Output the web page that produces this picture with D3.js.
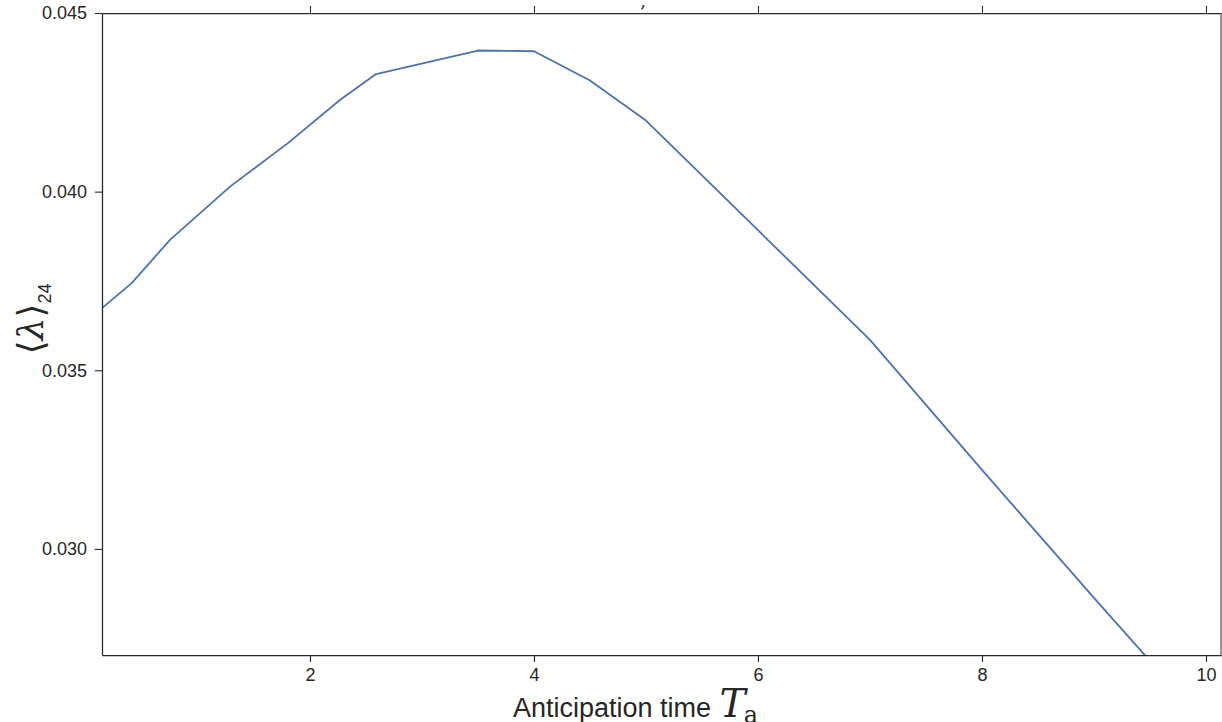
<!DOCTYPE html>
<html>
<head>
<meta charset="utf-8">
<script src="https://cdn.jsdelivr.net/npm/d3@7"></script>
<style>
  body { margin: 0; background: #fff; }
  svg { display: block; }
</style>
</head>
<body>
<div id="chart"></div>
<script>
// anticipation time T_a
const timeValues = [0.143, 0.408, 0.75, 1.286, 1.8, 2.27, 2.59, 3.5, 4.0, 4.5, 5.0, 6.0, 7.0, 8.0, 9.0, 10.0];
// mean lambda over 24
const lambdaValues = [0.03674, 0.03744, 0.03865, 0.04014, 0.04135, 0.04257, 0.04329, 0.04395, 0.04393, 0.04311, 0.04199, 0.03892, 0.03585, 0.03221, 0.02863, 0.0251];
const xTicks = [2, 4, 6, 8, 10];
const yTicks = [0.030, 0.035, 0.040, 0.045];

const W = 1222, H = 722;
const margin = { top: 13, right: 1, bottom: 67, left: 102 };
const width = W - margin.left - margin.right;
const height = H - margin.top - margin.bottom;

const svg = d3.select("#chart").append("svg")
    .attr("width", W)
    .attr("height", H);

const g = svg.append("g")
    .attr("transform", `translate(${margin.left},${margin.top})`);

const x = d3.scaleLinear().domain([0.143, 10.134]).range([0, width]);
const y = d3.scaleLinear().domain([0.02703, 0.045]).range([height, 0]);

const axisColor = "#262626";
const font = "'Liberation Sans', Arial, sans-serif";

// clip so the line stops at the frame
g.append("clipPath").attr("id", "clip")
  .append("rect").attr("width", width).attr("height", height);

const data = timeValues.map((t, i) => ({ t: t, v: lambdaValues[i] }));

const line = d3.line()
    .x(d => x(d.t))
    .y(d => y(d.v));

g.append("path")
    .datum(data)
    .attr("clip-path", "url(#clip)")
    .attr("d", line)
    .attr("fill", "none")
    .attr("stroke", "#4c72b0")
    .attr("stroke-width", 1.8)
    .attr("stroke-linejoin", "round");

// axes
function styleAxis(sel) {
    sel.attr("font-size", null).attr("font-family", null);
    sel.selectAll("path").attr("stroke", axisColor).attr("stroke-width", 1.25);
    sel.selectAll("line").attr("stroke", axisColor).attr("stroke-width", 1.1);
    sel.selectAll("text").attr("fill", axisColor).style("font-family", font).style("font-size", "18px");
}

g.append("g")
    .attr("transform", `translate(0,${height})`)
    .call(d3.axisBottom(x).tickValues(xTicks).tickSize(7).tickPadding(6).tickSizeOuter(0)
        .tickFormat(d3.format("d")))
    .call(styleAxis);

g.append("g")
    .call(d3.axisTop(x).tickValues(xTicks).tickSize(7).tickSizeOuter(0).tickFormat(""))
    .call(styleAxis);

g.append("g")
    .call(d3.axisLeft(y).tickValues(yTicks).tickSize(7).tickPadding(8).tickSizeOuter(0)
        .tickFormat(d3.format(".3f")))
    .call(styleAxis);

g.append("line")
    .attr("x1", width).attr("x2", width)
    .attr("y1", 0).attr("y2", height)
    .attr("stroke", "#555").attr("stroke-width", 1.25);

// clipped title remnant at the top
svg.append("text")
    .attr("x", 643).attr("y", 7)
    .attr("text-anchor", "middle")
    .attr("fill", axisColor)
    .style("font-family", "'DejaVu Serif', serif")
    .style("font-size", "18px")
    .text(",");

// x label
const xl = svg.append("text")
    .attr("x", 513).attr("y", 717)
    .attr("fill", axisColor)
    .style("font-family", font)
    .style("font-size", "27px");
xl.append("tspan").text("Anticipation time ");
xl.append("tspan")
    .style("font-family", "'DejaVu Serif', 'Liberation Serif', serif")
    .style("font-style", "italic")
    .style("font-size", "39px")
    .attr("dx", 1)
    .text("T");
xl.append("tspan")
    .style("font-family", "'DejaVu Serif', 'Liberation Serif', serif")
    .style("font-size", "24px")
    .attr("dy", 6)
    .attr("dx", -2)
    .text("a");

// y label
const yl = svg.append("text")
    .attr("transform", "translate(43,319) rotate(-90)")
    .attr("text-anchor", "middle")
    .attr("fill", axisColor)
    .style("font-family", "'DejaVu Serif', 'Liberation Serif', serif")
    .style("font-size", "36px");
yl.append("tspan").text("⟨");
yl.append("tspan").style("font-style", "italic").text("λ");
yl.append("tspan").text("⟩");
yl.append("tspan")
    .attr("dy", 8)
    .style("font-family", font)
    .style("font-size", "18px")
    .text("24");
</script>
</body>
</html>
